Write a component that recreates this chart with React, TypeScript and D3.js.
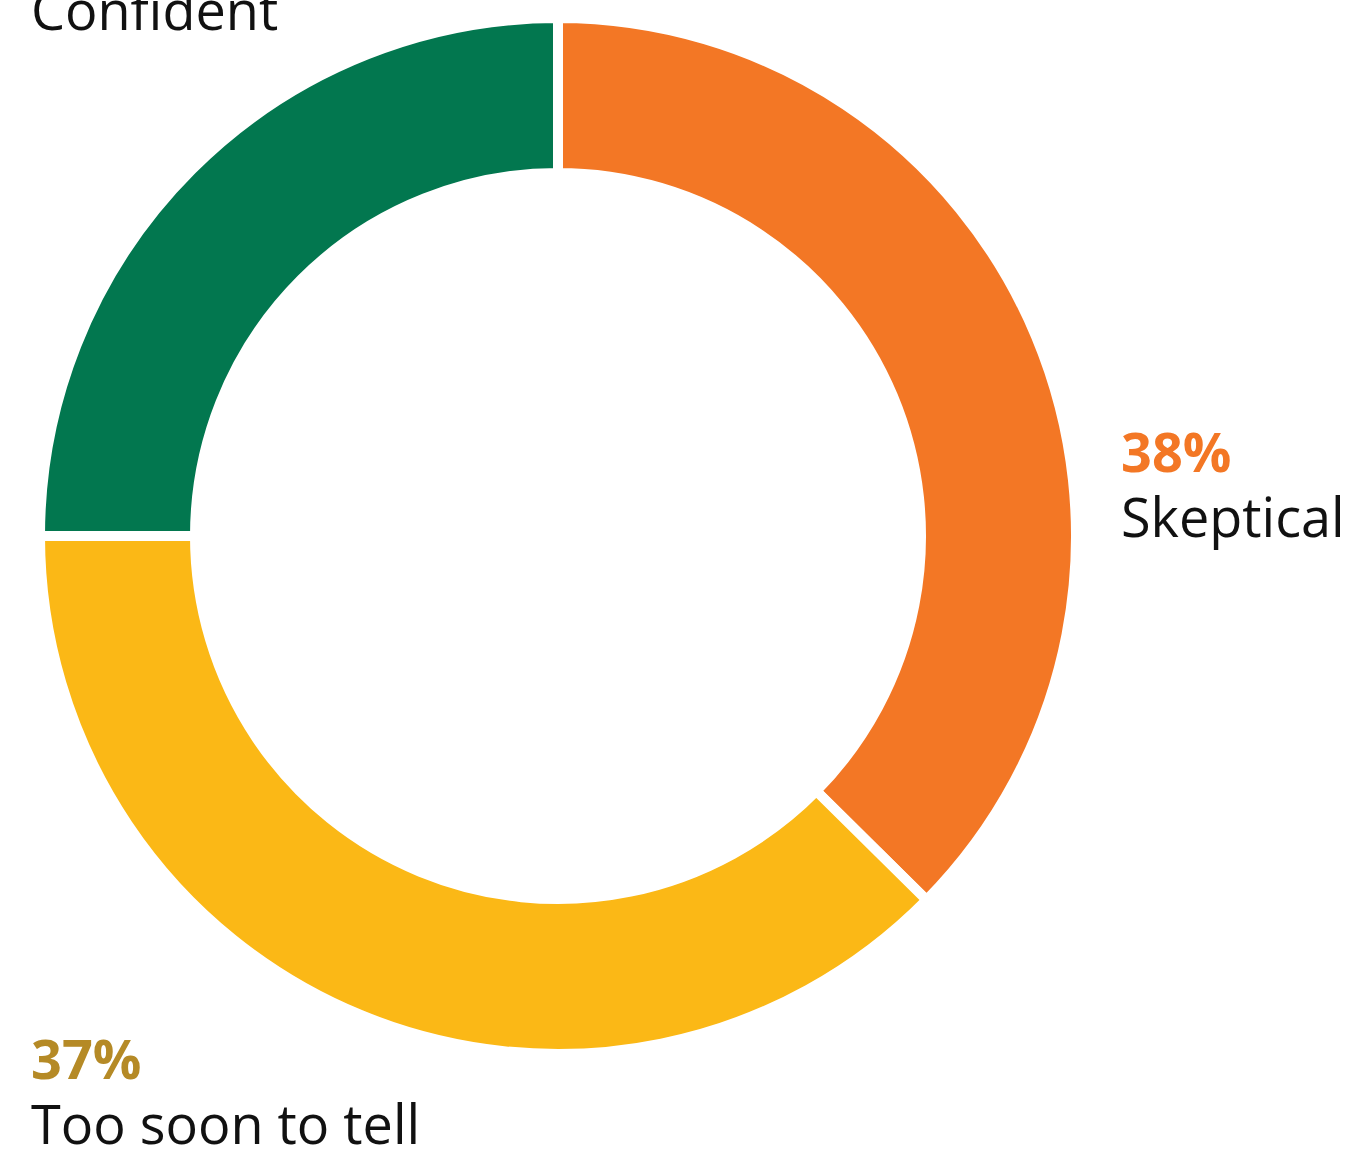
import * as d3 from "d3";

// slice shares as drawn (labels are rounded in the source)
const categories = ["Skeptical", "Too soon to tell", "Confident"];
const shares = [37.4, 37.6, 25];
const percentLabels = ["38%", "37%", "25%"];
const sliceColors = ["#F37725", "#FBB816", "#02774F"];
const percentColors = ["#F37725", "#B58A26", "#02774F"];

const W = 1357;
const H = 1151;

export default function App() {
  const cx = 558;
  const cy = 536;
  const outer = 518;
  const inner = 363;

  const pie = d3
    .pie<number>()
    .sort(null)
    .value((d) => d);
  const arcs = pie(shares);
  const arc = d3.arc<d3.PieArcDatum<number>>().innerRadius(inner).outerRadius(outer);

  const font = "'Open Sans', 'Noto Sans', sans-serif";

  // label anchors (left edge, baseline of the percent line)
  const labelPos = [
    { x: 1121, y: 472 },
    { x: 31, y: 1079 },
    { x: 31, y: -35 },
  ];

  return (
    <svg
      width={W}
      height={H}
      style={{ position: "absolute", top: 0, left: 0, background: "#fff" }}
    >
      <g transform={`translate(${cx},${cy})`}>
        {arcs.map((a, i) => (
          <path
            key={categories[i]}
            d={arc(a) || ""}
            fill={sliceColors[i]}
            stroke="#fff"
            strokeWidth={10}
            strokeLinejoin="miter"
          />
        ))}
      </g>
      {categories.map((c, i) => (
        <g key={c} fontFamily={font}>
          {i < 2 && (
            <text
              x={labelPos[i].x}
              y={labelPos[i].y}
              fontSize={54}
              fontWeight={700}
              fill={percentColors[i]}
            >
              {percentLabels[i]}
            </text>
          )}
          <text x={labelPos[i].x} y={labelPos[i].y + 65} fontSize={54} fill="#111">
            {c}
          </text>
        </g>
      ))}
    </svg>
  );
}
